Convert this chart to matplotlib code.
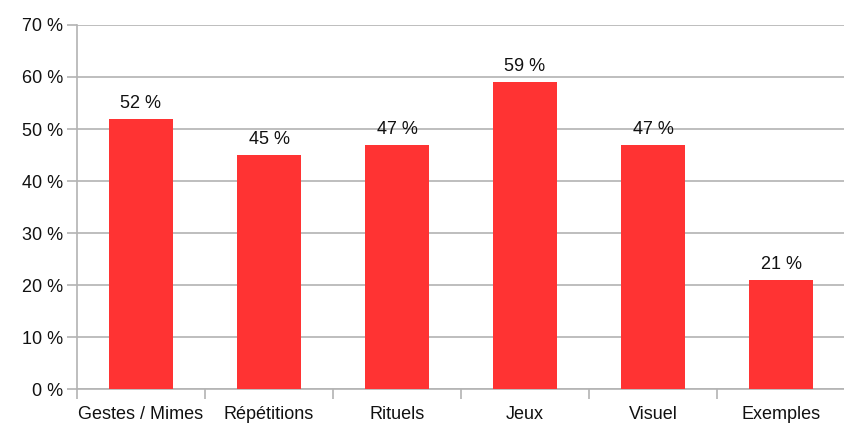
import matplotlib.pyplot as plt
from matplotlib import font_manager

categories = ["Gestes / Mimes", "Répétitions", "Rituels", "Jeux", "Visuel", "Exemples"]
values = [52, 45, 47, 59, 47, 21]
yticks = [0, 10, 20, 30, 40, 50, 60, 70]

names = {f.name for f in font_manager.fontManager.ttflist}
narrow = "Liberation Sans Narrow" if "Liberation Sans Narrow" in names else "Liberation Sans"
plt.rcParams['font.family'] = [narrow, 'DejaVu Sans']

grey = '#b3b3b3'
red = '#ff3333'

fig = plt.figure(figsize=(8.45, 4.23), dpi=100)
ax = fig.add_axes([0.0911, 0.080, 0.909, 0.861])

x = range(len(categories))
bars = ax.bar(x, values, width=0.5, color=red, zorder=3)

for xi, v in zip(x, values):
    ax.annotate(f"{v} %", (xi, v), xytext=(0, 5), textcoords='offset points',
                ha='center', va='bottom', fontsize=13, color='#111111')

ax.set_xlim(-0.5, len(categories) - 0.5)
ax.set_ylim(0, 70)
ax.set_yticks(yticks)
ax.set_yticklabels([f"{t} %" for t in yticks], fontsize=13, color='#111111')
ax.yaxis.grid(True, color=grey, linewidth=1.2, zorder=0)

ax.set_xticks([i + 0.5 for i in range(-1, len(categories))], minor=False)
ax.set_xticklabels([])
ax.set_xticks(list(x), minor=True)
ax.set_xticklabels(categories, minor=True, fontsize=13, color='#111111')
ax.tick_params(axis='x', which='minor', length=0, pad=12)
ax.tick_params(axis='x', which='major', length=7, color=grey, width=1.2)
ax.tick_params(axis='y', length=7, color=grey, width=1.2, pad=3)

for s in ['top', 'right']:
    ax.spines[s].set_visible(False)
for s in ['left', 'bottom']:
    ax.spines[s].set_color(grey)
    ax.spines[s].set_linewidth(1.2)

fig.savefig("out.png", dpi=100)
